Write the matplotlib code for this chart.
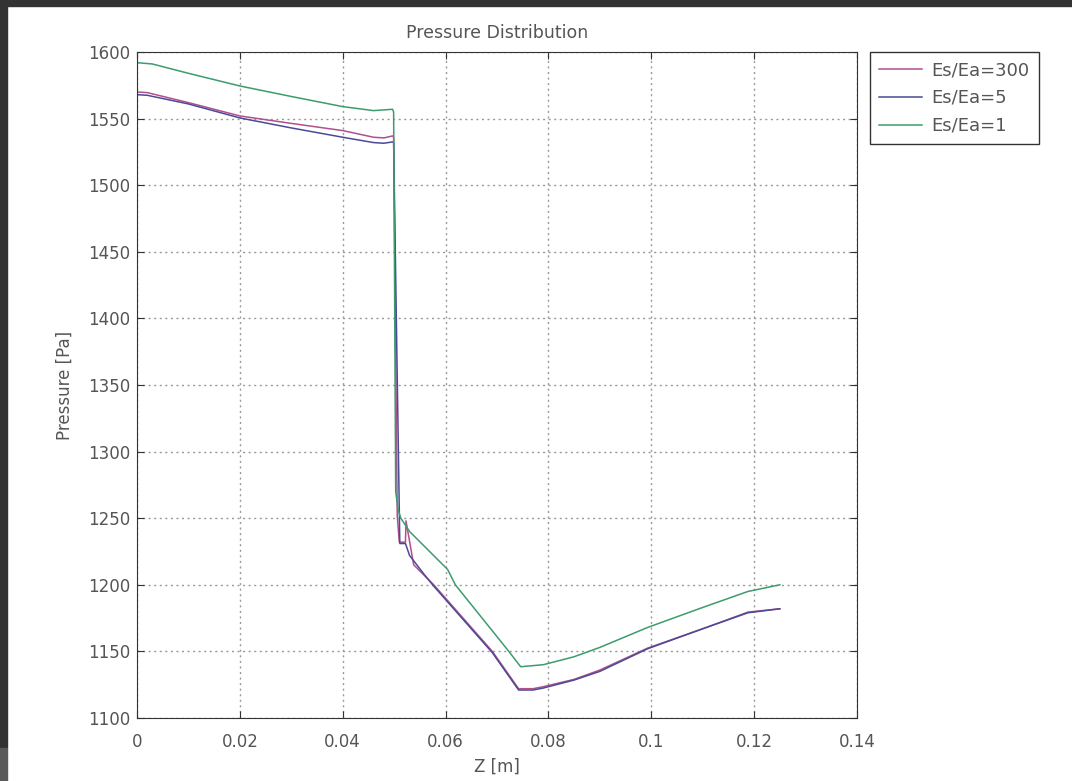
import matplotlib
matplotlib.use("Agg")
import matplotlib.pyplot as plt
from matplotlib.patches import Rectangle
from matplotlib.ticker import FormatStrFormatter

# Es/Ea = 300
z_300 = [0, 0.002, 0.01, 0.02, 0.03, 0.04, 0.046, 0.048, 0.0497, 0.0499, 0.0506, 0.0510,
         0.0522, 0.0523, 0.0538, 0.0577, 0.0691, 0.0742, 0.077, 0.079, 0.085, 0.09,
         0.0993, 0.11, 0.1188, 0.125]
p_300 = [1570, 1569.5, 1562, 1552, 1546.4, 1541, 1536, 1535.5, 1537, 1536, 1252, 1232,
         1232, 1248, 1215, 1200, 1150, 1122, 1122, 1123.5, 1129, 1136,
         1152.5, 1167, 1179.5, 1182]

# Es/Ea = 5
z_5 = [0, 0.002, 0.01, 0.02, 0.03, 0.04, 0.046, 0.048, 0.0497, 0.0499, 0.0511, 0.0522,
       0.053, 0.056, 0.0577, 0.0691, 0.0742, 0.077, 0.079, 0.085, 0.09,
       0.0993, 0.11, 0.1188, 0.125]
p_5 = [1568, 1567.5, 1561, 1550.5, 1543, 1536, 1532, 1531.5, 1532.5, 1532, 1231, 1231,
       1222, 1207, 1199, 1149, 1121, 1121, 1122.5, 1128.5, 1135,
       1152, 1167, 1179, 1182]

# Es/Ea = 1
z_1 = [0, 0.003, 0.01, 0.02, 0.03, 0.04, 0.046, 0.0497, 0.0499, 0.0503, 0.0508, 0.0513,
       0.053, 0.0604, 0.0619, 0.0723, 0.0746, 0.079, 0.085, 0.09, 0.0993, 0.11,
       0.1188, 0.125]
p_1 = [1592, 1591, 1584, 1574.5, 1566.6, 1559, 1556, 1557, 1555, 1270, 1256, 1250,
       1240, 1211.5, 1200, 1150, 1138.5, 1140, 1146, 1153, 1168, 1183,
       1195, 1200]

x_ticks = [0, 0.02, 0.04, 0.06, 0.08, 0.1, 0.12, 0.14]
y_ticks = [1100, 1150, 1200, 1250, 1300, 1350, 1400, 1450, 1500, 1550, 1600]

txt = "#555555"
plt.rcParams['font.family'] = ['DejaVu Sans']

fig = plt.figure(figsize=(10.72, 7.81), dpi=100)
# dark screenshot frame
fig.patches.append(Rectangle((0, 1 - 6 / 781), 1, 6 / 781, transform=fig.transFigure,
                             color="#333333", zorder=-1))
fig.patches.append(Rectangle((0, 33 / 781), 7 / 1072, 1, transform=fig.transFigure,
                             color="#333333", zorder=-1))
fig.patches.append(Rectangle((0, 0), 7 / 1072, 33 / 781, transform=fig.transFigure,
                             color="#5a5a5a", zorder=-1))

ax = fig.add_axes([137 / 1072, 63 / 781, 720 / 1072, 666 / 781])

ax.plot(z_300, p_300, color="#b0508c", lw=1.1, label="Es/Ea=300")
ax.plot(z_5, p_5, color="#4a4a96", lw=1.1, label="Es/Ea=5")
ax.plot(z_1, p_1, color="#3c9c6c", lw=1.1, label="Es/Ea=1")

ax.set_xlim(0, 0.14)
ax.set_ylim(1100, 1600)
ax.set_xticks(x_ticks)
ax.set_yticks(y_ticks)
ax.xaxis.set_major_formatter(FormatStrFormatter('%g'))
ax.grid(True, color="#999999", linestyle=(0, (1.5, 2.5)), linewidth=1)
ax.tick_params(direction='in', length=5, top=True, right=True, colors="#333333",
               labelcolor=txt, labelsize=12)
ax.tick_params(axis='x', pad=11)
ax.tick_params(axis='y', pad=5)
for s in ax.spines.values():
    s.set_color("#333333")

ax.set_title("Pressure Distribution", color=txt, fontsize=12.5, pad=10)
ax.set_xlabel("Z [m]", color=txt, fontsize=12, labelpad=5)
ax.set_ylabel("Pressure [Pa]", color=txt, fontsize=12, labelpad=10)

leg = fig.legend(loc="upper left", bbox_to_anchor=(870 / 1072, 1 - 52 / 781),
                 borderaxespad=0, fancybox=False, framealpha=1, edgecolor="#333333",
                 fontsize=13, handlelength=2.4, handletextpad=0.5, labelcolor=txt,
                 borderpad=0.5, labelspacing=0.55)

fig.savefig("out.png", dpi=100)
